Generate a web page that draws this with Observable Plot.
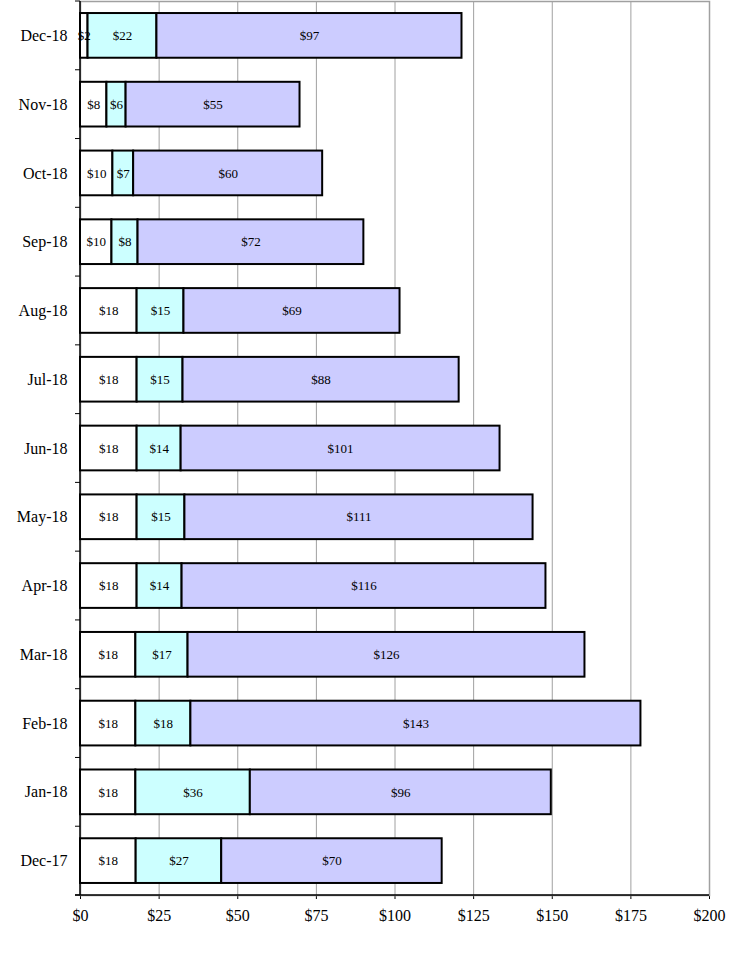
<!DOCTYPE html>
<html><head><meta charset="utf-8">
<script src="https://cdn.jsdelivr.net/npm/d3@7"></script>
<script src="https://cdn.jsdelivr.net/npm/@observablehq/plot@0.6"></script>
<style>body{margin:0;background:#fff}</style>
</head><body><div id="chart"></div>
<script>
const months = ["Dec-17","Jan-18","Feb-18","Mar-18","Apr-18","May-18","Jun-18","Jul-18","Aug-18","Sep-18","Oct-18","Nov-18","Dec-18"];
const seriesNames = ["Part 1","Part 2","Part 3"];
const seriesColors = ["#ffffff","#ccffff","#ccccff"];
const part1 = [17.7,17.6,17.6,17.6,18,18,18,18,18,10,10.3,8.4,2.4];
const part2 = [27.2,36.4,17.5,16.6,14.3,15.2,14,14.6,14.9,8.3,6.6,6.1,21.9];
const part3 = [70.1,95.7,143.1,126.2,115.7,110.7,101.4,87.8,68.7,71.8,60.1,55.3,97];
const xTicks = [0,25,50,75,100,125,150,175,200];

const parts = [part1, part2, part3];
const data = [];
months.forEach((m, i) => parts.forEach((p, k) => data.push({month: m, series: seriesNames[k], value: p[i]})));

function boundaryTicks(...args) {
  const dims = args.find(a => a && typeof a === "object" && a.marginLeft !== undefined && a.width !== undefined);
  const top = dims.marginTop;
  const yb = dims.height - dims.marginBottom;
  const step = (yb - top) / months.length;
  const bounds = d3.range(months.length + 1).map(i => top + i * step);
  const x0 = dims.marginLeft;
  const g = d3.create("svg:g");
  g.selectAll("line.t").data(bounds).join("line")
    .attr("x1", x0 - 5).attr("x2", x0).attr("y1", d => d).attr("y2", d => d)
    .attr("stroke", "black").attr("stroke-width", 1);
  g.append("line").attr("x1", x0).attr("x2", x0).attr("y1", top).attr("y2", yb)
    .attr("stroke", "black").attr("stroke-width", 1.5);
  g.append("line").attr("x1", x0 - 5).attr("x2", dims.width - dims.marginRight).attr("y1", yb).attr("y2", yb)
    .attr("stroke", "black").attr("stroke-width", 1.5);
  return g.node();
}

const chart = Plot.plot({
  width: 743,
  height: 954,
  marginTop: 1,
  marginBottom: 59,
  marginLeft: 80,
  marginRight: 34,
  style: {fontFamily: "'Liberation Serif', 'Times New Roman', serif", fontSize: "16px", color: "black", background: "white"},
  x: {domain: [0, 200], ticks: xTicks, tickFormat: d => "$" + d, tickSize: 4, tickPadding: 10, label: null},
  y: {domain: months.slice().reverse(), round: false, paddingInner: 0.35, paddingOuter: 0.175, tickSize: 0, tickPadding: 13, label: null},
  color: {domain: seriesNames, range: seriesColors},
  marks: [
    Plot.ruleX(xTicks.slice(1), {stroke: "#a0a0a0", strokeWidth: 1}),
    Plot.frame({stroke: "#a0a0a0", strokeWidth: 1.5}),
    Plot.barX(data, {x: "value", y: "month", fill: "series", stroke: "black", strokeWidth: 2, order: null}),
    Plot.text(data, Plot.stackX({x: "value", y: "month", z: "series", order: null, text: d => "$" + Math.round(d.value), fontSize: 13, fill: "black"})),
    boundaryTicks
  ]
});
document.getElementById("chart").appendChild(chart);
</script>
</body></html>
